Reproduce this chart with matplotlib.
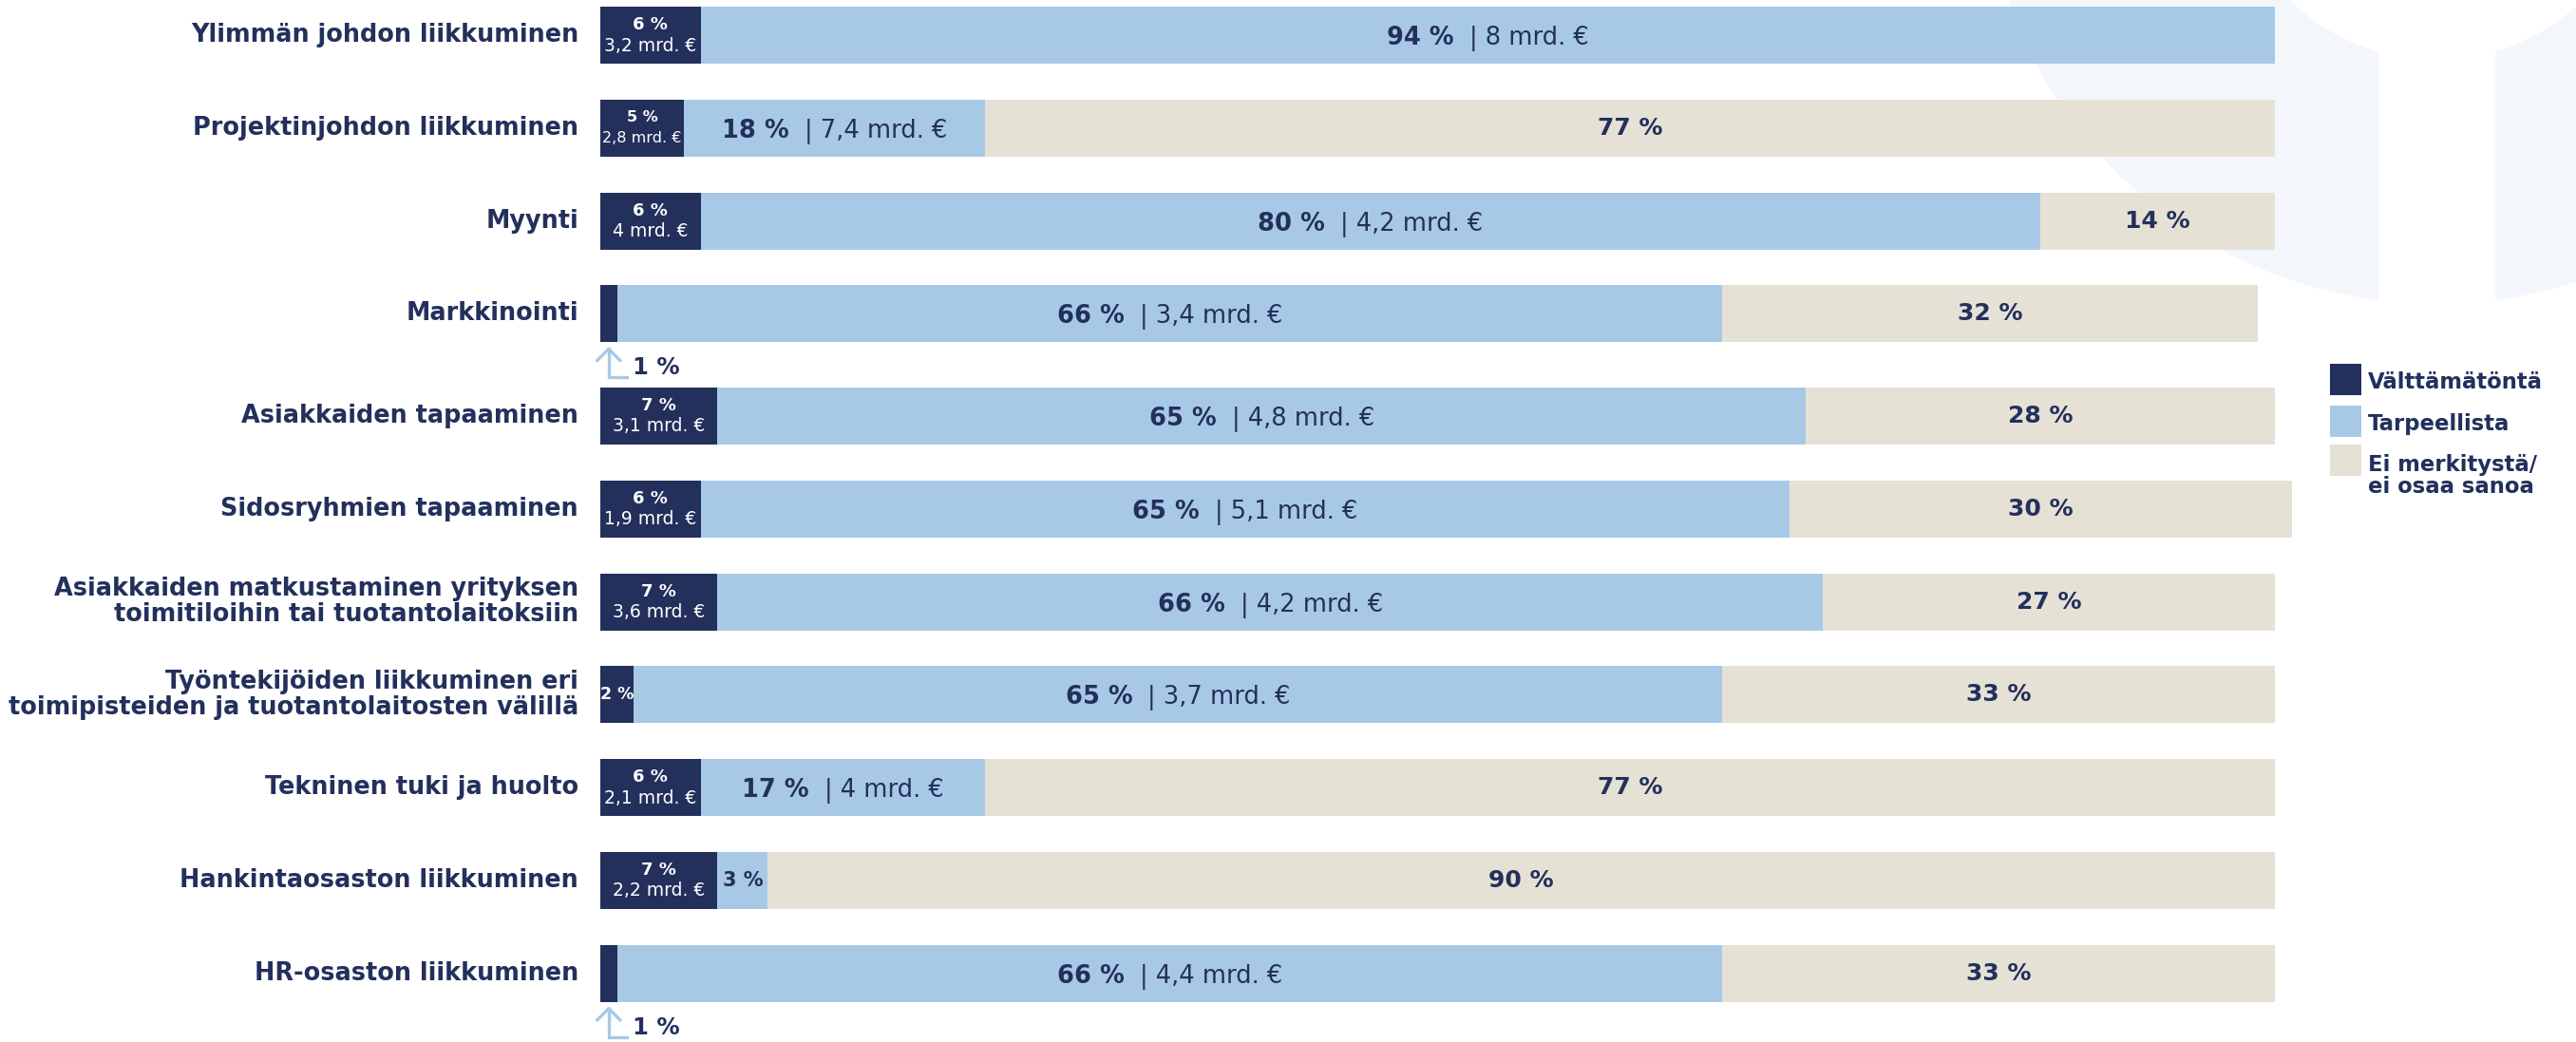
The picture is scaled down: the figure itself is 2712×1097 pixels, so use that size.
import matplotlib
matplotlib.use("Agg")
import matplotlib.pyplot as plt
import matplotlib.patches as mpatches
import matplotlib.transforms as mtransforms

# data (percent of respondents, billions of euros)
categories = [
    "Ylimmän johdon liikkuminen",
    "Projektinjohdon liikkuminen",
    "Myynti",
    "Markkinointi",
    "Asiakkaiden tapaaminen",
    "Sidosryhmien tapaaminen",
    "Asiakkaiden matkustaminen yrityksen\ntoimitiloihin tai tuotantolaitoksiin",
    "Työntekijöiden liikkuminen eri\ntoimipisteiden ja tuotantolaitosten välillä",
    "Tekninen tuki ja huolto",
    "Hankintaosaston liikkuminen",
    "HR-osaston liikkuminen",
]
essential = [6, 5, 6, 1, 7, 6, 7, 2, 6, 7, 1]
essential_mrd = ["3,2", "2,8", "4", None, "3,1", "1,9", "3,6", None, "2,1", "2,2", None]
useful = [94, 18, 80, 66, 65, 65, 66, 65, 17, 3, 66]
useful_mrd = ["8", "7,4", "4,2", "3,4", "4,8", "5,1", "4,2", "3,7", "4", None, "4,4"]
no_meaning = [0, 77, 14, 32, 28, 30, 27, 33, 77, 90, 33]
legend_labels = ["Välttämätöntä", "Tarpeellista", "Ei merkitystä/\nei osaa sanoa"]

DARK = "#23305C"
LIGHT = "#A8C9E6"
BEIGE = "#E6E1D5"
NAVY = "#23305C"
plt.rcParams["font.family"] = "DejaVu Sans"

W, H = 2712, 1097
X0 = 632          # pixel where 0 % starts
PX_PCT = 17.63    # pixels per percent
ROW = 97.8        # pixels per row
Y_TOP = 37        # pixel centre of first bar
BAR_H = 60 / ROW
IDT = mtransforms.IdentityTransform()

fig = plt.figure(figsize=(W / 100, H / 100), dpi=100)
fig.patch.set_facecolor("white")

# faint ring in the background (top right), split by a white vertical gap
fig.add_artist(mpatches.Wedge((2565, H + 158), 478, 0, 360, width=478 - 221,
                              facecolor="#F3F7FB", edgecolor="none", transform=IDT, zorder=0))
fig.add_artist(mpatches.Rectangle((2504, H - 340), 123, 340, facecolor="white",
                                  edgecolor="none", transform=IDT, zorder=0.5))

ax = fig.add_axes([X0 / W, 0, (W - X0) / W, 1])
ax.patch.set_visible(False)
ax.set_xlim(0, (W - X0) / PX_PCT)
ax.set_ylim((H - Y_TOP) / ROW, -Y_TOP / ROW)
ax.axis("off")

ypos = [i + (0.1 if i >= 4 else 0) for i in range(len(categories))]

ax.barh(ypos, essential, height=BAR_H, color=DARK, zorder=2)
ax.barh(ypos, useful, left=essential, height=BAR_H, color=LIGHT, zorder=2)
left2 = [a + b for a, b in zip(essential, useful)]
ax.barh(ypos, no_meaning, left=left2, height=BAR_H, color=BEIGE, zorder=2, clip_on=False)

renderer = fig.canvas.get_renderer()


def centred_pair(x, y, bold_s, norm_s, size, gap=16):
    t1 = ax.text(x, y, bold_s, fontsize=size, weight="bold", color=NAVY,
                 ha="left", va="center_baseline", zorder=5)
    t2 = ax.text(x, y, norm_s, fontsize=size, color=NAVY,
                 ha="left", va="center_baseline", zorder=5)
    w1 = t1.get_window_extent(renderer).width
    w2 = t2.get_window_extent(renderer).width
    total = w1 + gap + w2
    t1.set_transform(ax.transData + mtransforms.ScaledTranslation(-total / 2 / 100, 0, fig.dpi_scale_trans))
    t2.set_transform(ax.transData + mtransforms.ScaledTranslation((-total / 2 + w1 + gap) / 100, 0, fig.dpi_scale_trans))


for i, y in enumerate(ypos):
    ax.text(-23 / PX_PCT, y, categories[i], ha="right", va="center", fontsize=18.4,
            weight="bold", color=NAVY, linespacing=1.08)

    d = essential[i]
    if essential_mrd[i] is not None:
        small = d <= 5
        ax.text(d / 2, y - 11 / ROW, f"{d} %", ha="center", va="center", color="white",
                weight="bold", fontsize=11.5 if small else 13, zorder=5)
        ax.text(d / 2, y + 11 / ROW, f"{essential_mrd[i]} mrd. €", ha="center", va="center",
                color="white", fontsize=11.5 if small else 13.5, zorder=5)
    elif d >= 2:
        ax.text(d / 2, y, f"{d} %", ha="center", va="center", color="white",
                weight="bold", fontsize=12.5, zorder=5)
    else:
        # tiny share: arrow and label below the bar
        yb = y + BAR_H / 2
        xa = d / 2
        ax.plot([xa, xa, xa + 19 / PX_PCT], [yb + 7 / ROW, yb + 37 / ROW, yb + 37 / ROW],
                color=LIGHT, lw=2.4, solid_joinstyle="miter", clip_on=False, zorder=5)
        ax.plot([xa - 12 / PX_PCT, xa, xa + 12 / PX_PCT], [yb + 19 / ROW, yb + 7 / ROW, yb + 19 / ROW],
                color=LIGHT, lw=2.4, clip_on=False, zorder=5)
        ax.text(xa + 25 / PX_PCT, yb + 27 / ROW, f"{d} %", ha="left", va="center",
                color=NAVY, weight="bold", fontsize=17.5, clip_on=False, zorder=5)

    u = useful[i]
    cx = d + u / 2
    if useful_mrd[i] is not None:
        centred_pair(cx, y, f"{u} %", f"| {useful_mrd[i]} mrd. €", 18.5)
    else:
        ax.text(cx, y, f"{u} %", ha="center", va="center", color=NAVY,
                weight="bold", fontsize=15, zorder=5)

    b = no_meaning[i]
    if b > 0:
        ax.text(left2[i] + b / 2, y, f"{b} %", ha="center", va="center", color=NAVY,
                weight="bold", fontsize=18, zorder=5)

# legend drawn by hand
leg_colors = [DARK, LIGHT, BEIGE]
leg_tops = [383, 427, 468]
for col, top, lab in zip(leg_colors, leg_tops, legend_labels):
    fig.add_artist(mpatches.Rectangle((2453 / W, 1 - (top + 33) / H), 33 / W, 33 / H,
                                      facecolor=col, edgecolor="none", transform=fig.transFigure, zorder=3))
    for k, line in enumerate(lab.split("\n")):
        yc = top + 16.5 + (3 if k == 0 and "\n" not in lab else 5) + 23 * k
        fig.text(2493 / W, 1 - yc / H, line, ha="left", va="center", fontsize=16.4,
                 weight="bold", color=NAVY, zorder=3)

fig.savefig("out.png", dpi=100)
